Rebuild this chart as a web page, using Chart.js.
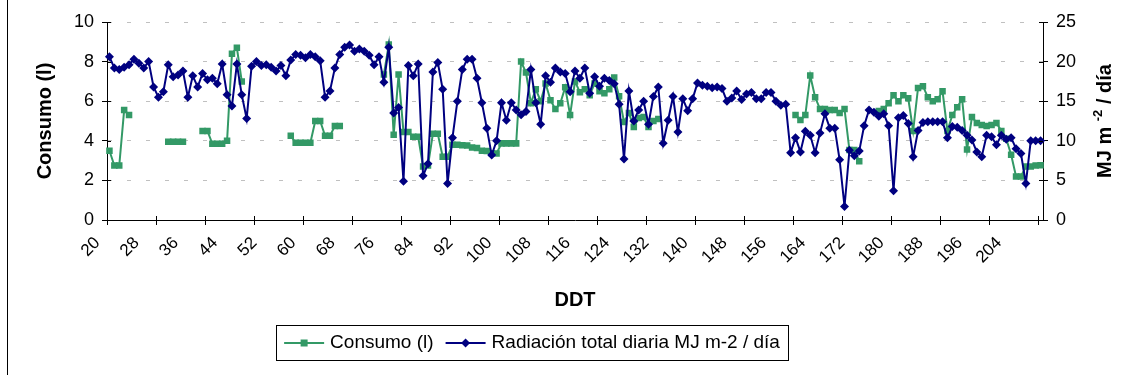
<!DOCTYPE html>
<html>
<head>
<meta charset="utf-8">
<title>Consumo y radiación</title>
<script src="https://cdn.jsdelivr.net/npm/chart.js@4.4.1/dist/chart.umd.min.js"></script>
<style>
  html, body { margin: 0; padding: 0; background: #fff; }
  #wrap { width: 1125px; height: 375px; }
</style>
</head>
<body>
<div id="wrap"><canvas id="chart" width="1125" height="375"></canvas></div>
<script>
// Días después del trasplante (DDT)
const days = [
    20, 21, 22, 23, 24, 25, 26, 27, 28, 29, 30, 31, 32, 33, 34, 35, 36, 37, 38, 39,
    40, 41, 42, 43, 44, 45, 46, 47, 48, 49, 50, 51, 52, 53, 54, 55, 56, 57, 58, 59,
    60, 61, 62, 63, 64, 65, 66, 67, 68, 69, 70, 71, 72, 73, 74, 75, 76, 77, 78, 79,
    80, 81, 82, 83, 84, 85, 86, 87, 88, 89, 90, 91, 92, 93, 94, 95, 96, 97, 98, 99,
    100, 101, 102, 103, 104, 105, 106, 107, 108, 109, 110, 111, 112, 113, 114, 115, 116, 117, 118, 119,
    120, 121, 122, 123, 124, 125, 126, 127, 128, 129, 130, 131, 132, 133, 134, 135, 136, 137, 138, 139,
    140, 141, 142, 143, 144, 145, 146, 147, 148, 149, 150, 151, 152, 153, 154, 155, 156, 157, 158, 159,
    160, 161, 162, 163, 164, 165, 166, 167, 168, 169, 170, 171, 172, 173, 174, 175, 176, 177, 178, 179,
    180, 181, 182, 183, 184, 185, 186, 187, 188, 189, 190, 191, 192, 193, 194, 195, 196, 197, 198, 199,
    200, 201, 202, 203, 204, 205, 206, 207, 208, 209, 210
];

const xTickLabels = [20, 28, 36, 44, 52, 60, 68, 76, 84, 92, 100, 108, 116, 124, 132, 140, 148, 156, 164, 172, 180, 188, 196, 204];
const consumoTicks = [0, 2, 4, 6, 8, 10];
const radiacionTicks = [0, 5, 10, 15, 20, 25];

// Consumo (l) - null where there is no reading
const consumo = [
    3.5, 2.75, 2.75, 5.55, 5.3, null, null, null, null, null,
    null, null, 3.95, 3.95, 3.95, 3.95, null, null, null, 4.5,
    4.5, 3.85, 3.85, 3.85, 4.0, 8.4, 8.7, 7.0, null, null,
    null, null, null, null, null, null, null, 4.25, 3.9, 3.9,
    3.9, 3.9, 5.0, 5.0, 4.25, 4.25, 4.75, 4.75, null, null,
    null, null, null, null, null, null, 7.35, 8.86, 4.3, 7.35,
    4.45, 4.45, 4.2, 4.2, 2.7, 2.75, 4.35, 4.35, 3.2, 3.2,
    3.8, 3.8, 3.78, 3.76, 3.66, 3.64, 3.5, 3.48, 3.37, 3.36,
    3.87, 3.87, 3.87, 3.87, 8.0, 7.45, 5.9, 6.6, 6.0, 6.9,
    6.05, 5.6, 5.9, 6.7, 5.3, 7.0, 6.45, 6.6, 6.3, 6.9,
    6.5, 6.4, 6.6, 7.2, 6.25, 4.95, 5.4, 4.7, 5.15, 5.2,
    4.7, 5.0, 5.1, null, null, null, null, null, null, null,
    null, null, null, null, null, null, null, null, null, null,
    null, null, null, null, null, null, null, null, null, null,
    5.3, 5.05, 5.3, 7.3, 6.2, 5.6, 5.6, 5.55, 5.55, 5.4,
    5.6, 3.53, 3.53, 2.97, null, null, null, 5.5, 5.6, 5.9,
    6.3, 6.0, 6.3, 6.15, 4.5, 6.67, 6.76, 6.2, 6.0, 6.1,
    6.5, 4.5, 5.3, 5.7, 6.1, 3.56, 5.2, 4.9, 4.8, 4.75,
    4.8, 4.9, 4.5, 4.1, 3.3, 2.2, 2.2, 2.7, 2.7, 2.75,
    2.77
];

// Radiación total diaria (MJ m-2 / día)
const radiacion = [
    20.6, 19.2, 19.0, 19.3, 19.6, 20.3, 19.8, 19.2, 20.0, 16.8,
    15.5, 16.2, 19.6, 18.1, 18.3, 18.8, 15.5, 18.2, 16.8, 18.5,
    17.7, 17.9, 17.2, 19.7, 15.8, 14.4, 19.7, 15.8, 12.8, 19.4,
    20.0, 19.5, 19.6, 19.3, 18.8, 19.5, 18.2, 20.2, 20.9, 20.8,
    20.5, 20.9, 20.6, 20.1, 15.5, 16.3, 19.2, 20.9, 21.8, 22.1,
    21.3, 21.6, 21.3, 20.8, 19.6, 20.6, 17.4, 21.8, 13.5, 14.2,
    4.9, 19.5, 18.2, 19.7, 5.6, 7.1, 18.7, 19.9, 16.5, 4.6,
    10.4, 15.0, 19.0, 20.3, 20.3, 17.9, 14.8, 11.6, 8.2, 10.0,
    14.8, 12.6, 14.8, 13.9, 13.3, 13.7, 19.0, 14.8, 12.1, 18.2,
    17.4, 19.2, 18.7, 18.5, 16.2, 18.8, 17.9, 19.2, 16.0, 18.1,
    16.9, 17.9, 17.6, 17.2, 14.6, 7.7, 16.3, 12.5, 13.9, 15.0,
    12.1, 15.6, 16.8, 9.7, 12.6, 15.6, 11.1, 15.3, 13.8, 15.3,
    17.3, 17.0, 16.9, 16.7, 16.8, 16.6, 15.0, 15.4, 16.3, 15.2,
    15.9, 16.1, 15.3, 15.3, 16.1, 16.1, 15.0, 14.5, 14.6, 8.5,
    10.4, 8.6, 11.2, 10.7, 8.5, 11.0, 13.4, 11.6, 11.6, 7.6,
    1.7, 8.8, 8.1, 8.7, 11.9, 13.9, 13.6, 13.1, 13.4, 11.9,
    3.7, 12.9, 13.2, 12.2, 8.0, 11.3, 12.3, 12.4, 12.4, 12.4,
    12.4, 10.4, 11.8, 11.7, 11.3, 10.7, 10.1, 8.6, 8.0, 10.7,
    10.5, 9.5, 10.7, 10.2, 10.4, 9.0, 8.4, 4.6, 10.0, 10.0,
    10.0
];

const GREEN = '#339966';
const NAVY = '#000080';
const FONT = "'Liberation Sans', Arial, sans-serif";

// outer frame line, inner halves of the tick marks, right axis title
// (reads bottom to top) and the boxed legend
const decorations = {
    id: 'decorations',
    afterDraw(chart) {
        const ctx = chart.ctx;
        const area = chart.chartArea;
        const xs = chart.scales.x, yl = chart.scales.y, yr = chart.scales.y1;
        ctx.save();

        ctx.strokeStyle = '#000';
        ctx.lineWidth = 1;
        ctx.beginPath();
        ctx.moveTo(7.5, 0);
        ctx.lineTo(7.5, chart.height);

        // tick marks cross the axis lines
        consumoTicks.forEach(v => {
            const py = Math.round(yl.getPixelForValue(v)) + 0.5;
            ctx.moveTo(area.left, py);
            ctx.lineTo(area.left + 4, py);
        });
        radiacionTicks.forEach(v => {
            const py = Math.round(yr.getPixelForValue(v)) + 0.5;
            ctx.moveTo(area.right - 4, py);
            ctx.lineTo(area.right, py);
        });
        const half = (xs.getPixelForTick(1) - xs.getPixelForTick(0)) / 2;
        for (let i = 0; i < days.length; i += 10) {
            const px = Math.round(xs.getPixelForTick(i) - half) + 0.5;
            ctx.moveTo(px, area.bottom - 4);
            ctx.lineTo(px, area.bottom);
        }
        ctx.stroke();

        // right axis title with superscript
        ctx.fillStyle = '#000';
        const big = 'bold 20px ' + FONT;
        const small = 'bold 13px ' + FONT;
        const parts = [['MJ m ', big, 0], ['-2', small, -7], [' / día', big, 0]];
        let total = 0;
        parts.forEach(p => { ctx.font = p[1]; total += ctx.measureText(p[0]).width; });
        ctx.translate(1105, (area.top + area.bottom) / 2);
        ctx.rotate(-Math.PI / 2);
        ctx.textBaseline = 'middle';
        let tx = -total / 2;
        parts.forEach(p => {
            ctx.font = p[1];
            ctx.fillText(p[0], tx, p[2]);
            tx += ctx.measureText(p[0]).width;
        });
        ctx.setTransform(1, 0, 0, 1, 0, 0);

        // legend
        const items = chart.data.datasets.map(ds => ({
            text: ds.label, color: ds.borderColor, style: ds.pointStyle
        }));
        ctx.font = '19px ' + FONT;
        const lineLen = 40, gap = 6, itemGap = 12, padX = 8;
        let width = padX * 2;
        items.forEach((it, i) => {
            width += lineLen + gap + ctx.measureText(it.text).width + (i ? itemGap : 0);
        });
        const boxL = 532 - width / 2, boxT = 325, boxH = 35;
        ctx.strokeStyle = '#000';
        ctx.lineWidth = 1;
        ctx.strokeRect(Math.round(boxL) + 0.5, boxT + 0.5, Math.round(width), boxH);
        const cy = boxT + boxH / 2 + 0.5;
        let x = boxL + padX;
        items.forEach((it, i) => {
            if (i) x += itemGap;
            ctx.strokeStyle = it.color;
            ctx.fillStyle = it.color;
            ctx.lineWidth = 2;
            ctx.beginPath();
            ctx.moveTo(x, cy);
            ctx.lineTo(x + lineLen, cy);
            ctx.stroke();
            const mx = x + lineLen / 2;
            ctx.beginPath();
            if (it.style === 'rect') {
                ctx.rect(mx - 3.5, cy - 3.5, 7, 7);
            } else {
                ctx.moveTo(mx, cy - 4.5);
                ctx.lineTo(mx + 4.5, cy);
                ctx.lineTo(mx, cy + 4.5);
                ctx.lineTo(mx - 4.5, cy);
                ctx.closePath();
            }
            ctx.fill();
            x += lineLen + gap;
            ctx.fillStyle = '#000';
            ctx.textBaseline = 'middle';
            ctx.fillText(it.text, x, cy);
            x += ctx.measureText(it.text).width;
        });
        ctx.restore();
    }
};

const ctx = document.getElementById('chart').getContext('2d');

new Chart(ctx, {
    type: 'line',
    data: {
        labels: days,
        datasets: [{
            label: 'Consumo (l)',
            data: consumo,
            yAxisID: 'y',
            borderColor: GREEN,
            backgroundColor: GREEN,
            borderWidth: 2,
            pointStyle: 'rect',
            pointRadius: 4.6,
            pointBorderWidth: 0,
            spanGaps: false,
            tension: 0,
            order: 1
        }, {
            label: 'Radiación total diaria MJ m-2 / día',
            data: radiacion,
            yAxisID: 'y1',
            borderColor: NAVY,
            backgroundColor: NAVY,
            borderWidth: 2,
            pointStyle: 'rectRot',
            pointRadius: 4.5,
            pointBorderWidth: 0,
            tension: 0,
            order: 0
        }]
    },
    options: {
        responsive: false,
        animation: false,
        layout: { padding: { top: 22, left: 0, right: 0, bottom: 0 } },
        plugins: {
            legend: { display: false },
            tooltip: { enabled: false }
        },
        scales: {
            x: {
                type: 'category',
                offset: true,
                grid: {
                    offset: true,
                    drawOnChartArea: false,
                    tickLength: 5,
                    tickColor: c => (c.index !== undefined && c.index % 10 === 0) ? '#000' : 'rgba(0,0,0,0)'
                },
                border: { color: '#000', width: 1 },
                ticks: {
                    autoSkip: false,
                    minRotation: 45,
                    maxRotation: 45,
                    padding: 8,
                    labelOffset: -12,
                    color: '#000',
                    font: { size: 17, family: FONT },
                    callback: (value, index) => xTickLabels.includes(days[index]) ? String(days[index]) : ''
                },
                title: {
                    display: true,
                    text: 'DDT',
                    color: '#000',
                    font: { size: 20, weight: 'bold', family: FONT },
                    padding: { top: 0, bottom: 63 }
                },
                afterFit: s => { s.height = 155; }
            },
            y: {
                position: 'left',
                min: 0,
                max: 10,
                afterBuildTicks: s => { s.ticks = consumoTicks.map(v => ({ value: v })); },
                grid: {
                    color: c => (c.tick && c.tick.value === 0) ? 'rgba(0,0,0,0)' : '#c0c0c0',
                    tickColor: '#000',
                    tickLength: 5
                },
                border: { color: '#000', width: 1, dash: [4, 15] },
                ticks: {
                    padding: 8,
                    color: '#000',
                    font: { size: 18, family: FONT }
                },
                title: {
                    display: true,
                    text: 'Consumo (l)',
                    color: '#000',
                    font: { size: 20, weight: 'bold', family: FONT },
                    padding: { top: 33, bottom: 0 }
                },
                afterFit: s => { s.width = 107; }
            },
            y1: {
                position: 'right',
                min: 0,
                max: 25,
                afterBuildTicks: s => { s.ticks = radiacionTicks.map(v => ({ value: v })); },
                grid: {
                    drawOnChartArea: false,
                    tickColor: '#000',
                    tickLength: 5
                },
                border: { color: '#000', width: 1 },
                ticks: {
                    padding: 8,
                    color: '#000',
                    font: { size: 18, family: FONT }
                },
                afterFit: s => { s.width = 82; }
            }
        }
    },
    plugins: [decorations]
});
</script>
</body>
</html>
